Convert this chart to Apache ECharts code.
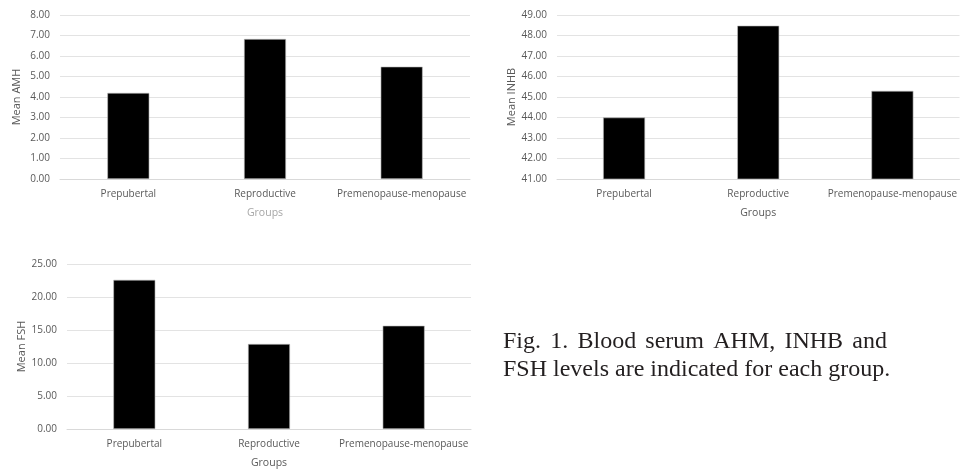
<!DOCTYPE html>
<html>
<head>
<meta charset="utf-8">
<script src="https://cdn.jsdelivr.net/npm/echarts@6/dist/echarts.min.js"></script>
<style>
  html, body { margin: 0; padding: 0; background: #fff; }
  #main { width: 960px; height: 471px; }
</style>
</head>
<body>
<div id="main"></div>
<script>
  // data
  var groups = ['Prepubertal', 'Reproductive', 'Premenopause-menopause'];
  var amh = [4.2, 6.83, 5.48];
  var inhb = [44.0, 48.48, 45.3];
  var fsh = [22.6, 12.88, 15.65];

  var captionLines = ['Fig. 1. Blood serum AHM, INHB and', 'FSH levels are indicated for each group.'];

  var labelFont = 'Open Sans';
  var tickColor = '#595959';
  var capFont = '24px "Liberation Serif"';

  function xAxisFor(idx, nameColor) {
    return {
      type: 'category',
      gridIndex: idx,
      data: groups,
      name: 'Groups',
      nameLocation: 'middle',
      nameGap: 29,
      nameTextStyle: { color: nameColor, fontSize: 10.5, fontFamily: labelFont },
      axisLine: { lineStyle: { color: '#d9d9d9' } },
      axisTick: { show: false },
      axisLabel: { color: tickColor, fontSize: 10, fontFamily: labelFont, margin: 10, interval: 0 }
    };
  }

  function yAxisFor(idx, name, min, max, step) {
    return {
      type: 'value',
      gridIndex: idx,
      min: min,
      max: max,
      interval: step,
      name: name,
      nameLocation: 'middle',
      nameRotate: 90,
      nameGap: 38,
      nameTextStyle: { color: tickColor, fontSize: 11, fontFamily: labelFont },
      axisLine: { show: false },
      axisTick: { show: false },
      splitLine: { lineStyle: { color: '#e3e3e3' } },
      axisLabel: {
        color: tickColor, fontSize: 10, fontFamily: labelFont, margin: 10,
        formatter: function (v) { return v.toFixed(2); }
      }
    };
  }

  function barSeries(idx, data) {
    return {
      type: 'bar',
      xAxisIndex: idx,
      yAxisIndex: idx,
      data: data,
      barWidth: 42,
      itemStyle: { color: '#000', borderColor: '#bfbfbf', borderWidth: 0.6 },
      silent: true
    };
  }

  // caption: first line justified to the width of the column
  var capLeft = 503, capWidth = 384, capTop = [330, 358];
  var ctx = document.createElement('canvas').getContext('2d');
  ctx.font = capFont;
  var capGraphics = [];
  var words = captionLines[0].split(' ');
  var wordsWidth = 0;
  words.forEach(function (w) { wordsWidth += ctx.measureText(w).width; });
  var gap = (capWidth - wordsWidth) / (words.length - 1);
  var cx = capLeft;
  words.forEach(function (w) {
    capGraphics.push({
      type: 'text', x: cx, y: capTop[0],
      style: { text: w, font: capFont, fill: '#231f20' }
    });
    cx += ctx.measureText(w).width + gap;
  });
  capGraphics.push({
    type: 'text', x: capLeft, y: capTop[1],
    style: { text: captionLines[1], font: capFont, fill: '#231f20' }
  });

  var chart = echarts.init(document.getElementById('main'));
  chart.setOption({
    animation: false,
    grid: [
      { left: 60, width: 410, top: 15, height: 164 },
      { left: 557, right: 0, top: 15, height: 164 },
      { left: 67, width: 404, top: 264, height: 165 }
    ],
    xAxis: [
      xAxisFor(0, '#a6a6a6'),
      xAxisFor(1, tickColor),
      xAxisFor(2, tickColor)
    ],
    yAxis: [
      yAxisFor(0, 'Mean AMH', 0, 8, 1),
      yAxisFor(1, 'Mean INHB', 41, 49, 1),
      yAxisFor(2, 'Mean FSH', 0, 25, 5)
    ],
    series: [
      barSeries(0, amh),
      barSeries(1, inhb),
      barSeries(2, fsh)
    ],
    graphic: capGraphics
  });
</script>
</body>
</html>
